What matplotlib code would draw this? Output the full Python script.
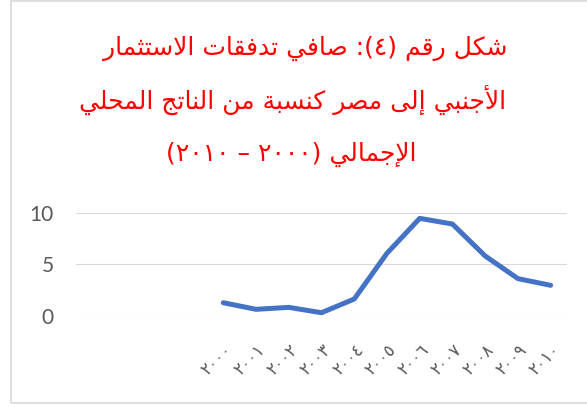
import re

import matplotlib
matplotlib.use("Agg")
import matplotlib.pyplot as plt
import numpy as np
from matplotlib.patches import Rectangle


title_lines = [
    "شكل رقم (٤): صافي تدفقات الاستثمار",
    "الأجنبي إلى مصر كنسبة من الناتج المحلي",
    "الإجمالي (٢٠٠٠ – ٢٠١٠)",
]

year_labels = ["٢٠٠٠", "٢٠٠١", "٢٠٠٢", "٢٠٠٣", "٢٠٠٤", "٢٠٠٥",
               "٢٠٠٦", "٢٠٠٧", "٢٠٠٨", "٢٠٠٩", "٢٠١٠"]

fdi_share = [1.26, 0.62, 0.81, 0.29, 1.62, 6.06, 9.45, 8.90, 5.80, 3.60, 2.95]

# empty category slots ahead of the first year on the axis
blank_slots = 4

y_ticks = [0, 5, 10]


#
# -------------------------------------------------------------
# Arabic shaping (matplotlib draws glyphs one by one, left to right)
# -------------------------------------------------------------
#

RIGHT_JOINING = {
    "ا": 0xFE8D, "أ": 0xFE83, "إ": 0xFE87, "آ": 0xFE81, "ؤ": 0xFE85,
    "ة": 0xFE93, "د": 0xFEA9, "ذ": 0xFEAB, "ر": 0xFEAD, "ز": 0xFEAF,
    "و": 0xFEED, "ى": 0xFEEF,
}

DUAL_JOINING = {
    "ئ": 0xFE89, "ب": 0xFE8F, "ت": 0xFE95, "ث": 0xFE99, "ج": 0xFE9D,
    "ح": 0xFEA1, "خ": 0xFEA5, "س": 0xFEB1, "ش": 0xFEB5, "ص": 0xFEB9,
    "ض": 0xFEBD, "ط": 0xFEC1, "ظ": 0xFEC5, "ع": 0xFEC9, "غ": 0xFECD,
    "ف": 0xFED1, "ق": 0xFED5, "ك": 0xFED9, "ل": 0xFEDD, "م": 0xFEE1,
    "ن": 0xFEE5, "ه": 0xFEE9, "ي": 0xFEF1,
}

LAM_ALEF = {"آ": 0xFEF5, "أ": 0xFEF7, "إ": 0xFEF9, "ا": 0xFEFB}

LETTERS = {**RIGHT_JOINING, **DUAL_JOINING}


def shape(text):

    out = []
    i = 0

    while i < len(text):

        c = text[i]

        if c not in LETTERS:
            out.append(c)
            i += 1
            continue

        prev = text[i - 1] if i > 0 else ""
        nxt = text[i + 1] if i + 1 < len(text) else ""
        link_prev = prev in DUAL_JOINING

        if c == "ل" and nxt in LAM_ALEF:
            out.append(chr(LAM_ALEF[nxt] + (1 if link_prev else 0)))
            i += 2
            continue

        link_next = c in DUAL_JOINING and nxt in LETTERS
        base = LETTERS[c]

        if link_prev and link_next:
            out.append(chr(base + 3))
        elif link_prev:
            out.append(chr(base + 1))
        elif link_next:
            out.append(chr(base + 2))
        else:
            out.append(chr(base))

        i += 1

    return "".join(out)


def visual(text):

    mirror = {"(": ")", ")": "("}
    flipped = "".join(mirror.get(c, c) for c in reversed(shape(text)))

    # numbers keep their left-to-right order inside right-to-left text
    return re.sub(r"[٠-٩]+", lambda m: m.group(0)[::-1], flipped)


#
# -------------------------------------------------------------
# Figure
# -------------------------------------------------------------
#

W, H = 587, 407

fig = plt.figure(figsize=(W / 100, H / 100), dpi=100)
fig.patch.set_facecolor("white")

fig.patches.append(
    Rectangle(
        (10.5 / W, 1 - 402.5 / H),
        (W + 10) / W,
        (402.5 - 1.0) / H,
        transform=fig.transFigure,
        facecolor="none",
        edgecolor="#d9d9d9",
        linewidth=1.2,
        clip_on=False,
    )
)

title_x = [305, 293, 291]
title_y = [48, 100, 154]

for line, tx, ty in zip(title_lines, title_x, title_y):

    fig.text(
        tx / W,
        1 - ty / H,
        visual(line),
        color="red",
        fontsize=18,
        family="DejaVu Sans",
        ha="center",
        va="center",
    )

ax_left, ax_right = 76, 567
ax_top, ax_bottom = 212.7, 315.7

ax = fig.add_axes([
    ax_left / W,
    1 - ax_bottom / H,
    (ax_right - ax_left) / W,
    (ax_bottom - ax_top) / H,
])

x = np.arange(len(fdi_share)) + blank_slots

ax.plot(
    x,
    fdi_share,
    color="#4472C4",
    linewidth=3.6,
    solid_capstyle="round",
    solid_joinstyle="round",
    clip_on=False,
    zorder=3,
)

ax.set_xlim(-0.5, blank_slots + len(fdi_share) - 0.5)
ax.set_ylim(0, 10)

ax.set_yticks(y_ticks)
ax.set_yticklabels([str(v) for v in y_ticks], fontsize=15, family="Lato",
                   color="#595959")
ax.tick_params(axis="y", length=0, pad=16)

ax.set_xticks(x)
ax.set_xticklabels(year_labels, fontsize=12, family="DejaVu Sans",
                   color="#595959", rotation=45, ha="right", va="top",
                   rotation_mode="anchor")
ax.tick_params(axis="x", length=0, pad=18)

ax.grid(axis="y", color="#d9d9d9", linewidth=0.8)
ax.set_axisbelow(True)

for spine in ax.spines.values():
    spine.set_visible(False)

fig.savefig("out.png", dpi=100)
